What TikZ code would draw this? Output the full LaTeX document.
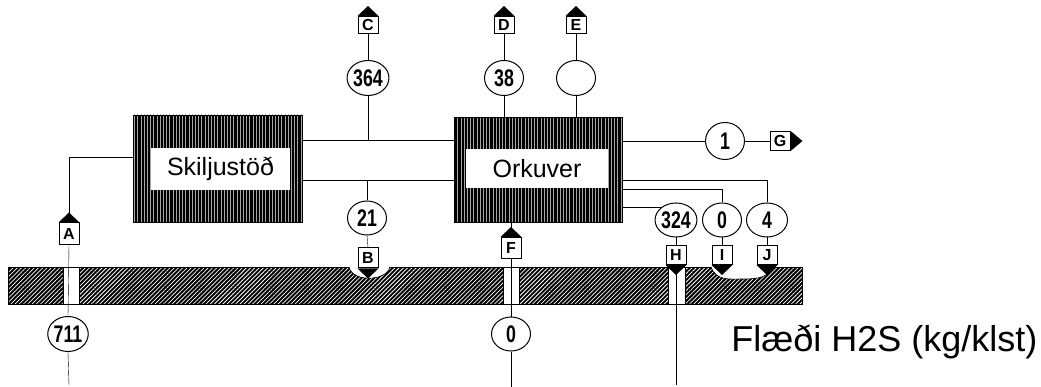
\documentclass[tikz,border=0pt]{standalone}
\usepackage{fontspec}
\setmainfont{Liberation Sans}
\newfontfamily\numfont{Liberation Sans}[FakeStretch=0.74]
\usetikzlibrary{shapes.geometric,patterns.meta,backgrounds}

% small black point on a tag box
\newcommand{\roof}[1]{\fill (#1.north west) -- (#1.north east) -- ([yshift=10pt]#1.north) -- cycle;}
\newcommand{\keel}[1]{\fill (#1.south west) -- (#1.south east) -- ([yshift=-10pt]#1.south) -- cycle;}
\newcommand{\prow}[1]{\fill (#1.north east) -- (#1.south east) -- ([xshift=12pt]#1.east) -- cycle;}

\begin{document}
\begin{tikzpicture}[x=1pt,y=-1pt,line width=0.8pt]
    % Styles
    \tikzset{
      flow/.style={ellipse,draw,line width=1pt,fill=white,inner sep=0pt,minimum width=39pt,minimum height=35pt,
        font=\numfont\bfseries\fontsize{24}{24}\selectfont},
      tag/.style={rectangle,draw,line width=1pt,fill=white,inner sep=0pt,minimum width=20pt,minimum height=19pt,
        font=\bfseries\fontsize{16}{16}\selectfont},
      plant/.style={rectangle,draw,preaction={fill=black},
        pattern={Lines[angle=90,distance=3.2pt,line width=0.5pt]},pattern color=black!35},
      plantname/.style={rectangle,fill=white,inner sep=0pt,font=\fontsize{25}{25}\selectfont},
      ground/.style={draw,line width=0.6pt,preaction={fill=black},
        pattern={Lines[angle=45,distance=3pt,line width=0.75pt]},pattern color=white},
      well/.style={draw,line width=0.6pt,fill=white}
    }
    \useasboundingbox (0,0) rectangle (1041,387);

    % --- Plants ---
    \node[plant,minimum width=169pt,minimum height=107pt] (skil) at (217.5,168.5) {};
    \node[plantname,minimum width=139pt,minimum height=42pt] (skiltxt) at (220.5,169) {Skiljustöð};
    \node[plant,minimum width=168pt,minimum height=105pt] (ork) at (538,169.5) {};
    \node[plantname,minimum width=142pt,minimum height=39pt] (orktxt) at (537,168.5) {Orkuver};

    % --- Flow values ---
    \node[flow] (f364) at (368,78) {364};
    \node[flow] (f38) at (504,78) {38};
    \node[flow] (fE) at (576,78) {};
    \node[flow,minimum height=34pt] (f21) at (367,218) {21};
    \node[flow] (f711) at (68,334) {711};
    \node[flow,minimum height=34pt] (f0b) at (511,334) {0};
    \node[flow,minimum height=37pt] (f1) at (725,141) {1};
    \node[flow,minimum height=34pt] (f324) at (676,220) {324};
    \node[flow,minimum height=34pt] (f0) at (722,220) {0};
    \node[flow,minimum width=41pt,minimum height=34pt] (f4) at (767,220) {4};

    % --- Tags ---
    \node[tag,minimum height=22pt] (tA) at (69,234) {A};
    \node[tag,minimum height=20pt] (tB) at (368,258) {B};
    \node[tag,minimum height=17pt] (tC) at (368,25) {C};
    \node[tag,minimum height=17pt] (tD) at (504,25) {D};
    \node[tag,minimum height=17pt] (tE) at (576,25) {E};
    \node[tag,minimum height=21pt] (tF) at (511,248) {F};
    \node[tag] (tG) at (780,141) {G};
    \node[tag] (tH) at (676,255) {H};
    \node[tag] (tI) at (722,255) {I};
    \node[tag] (tJ) at (767,255) {J};
    \roof{tA} \roof{tC} \roof{tD} \roof{tE} \roof{tF}
    \keel{tB} \keel{tH} \keel{tI} \keel{tJ}
    \prow{tG}

    % --- Free line ends ---
    \coordinate (aBend) at (69,157);
    \coordinate (aEnd) at (69,385);
    \coordinate (fEnd) at (511,387);
    \coordinate (hEnd) at (676,385);

    \begin{scope}[on background layer]
      % --- Ground ---
      \path[ground] (8,267) rectangle (802,304);
      \fill[white] (349,266) .. controls (352,282) and (386,282) .. (390,266) -- cycle;
      \draw[line width=0.6pt] (349,267) .. controls (352,282) and (386,282) .. (390,267);
      \fill[white] (711,266) .. controls (716,281) and (730,279) .. (742,279)
        .. controls (760,279) and (768,277) .. (772,266) -- cycle;
      \draw[line width=0.6pt] (711,267) .. controls (716,281) and (730,279) .. (742,279)
        .. controls (760,279) and (768,277) .. (772,267);
      \draw[well] (63,267) rectangle (79,304);
      \draw[well] (503,267) rectangle (519,304);
      \draw[well] (668,267) rectangle (685,304);

      % --- Connectors ---
      \draw (skil.west |- aBend) -- (aBend) -- (tA.north);
      \draw (tA.south) -- (f711.north);
      \draw (f711.south) -- (aEnd);
      \draw (skil.east |- 0,140) -- (ork.west |- 0,140);
      \draw (skil.east |- 0,180) -- (ork.west |- 0,180);
      \draw (tC.south) -- (f364.north);
      \draw (f364.south) -- (f364.south |- 0,140);
      \draw (f21.north |- 0,180) -- (f21.north);
      \draw (f21.south) -- (tB.north);
      \draw (tD.south) -- (f38.north);
      \draw (f38.south) -- (f38.south |- ork.north);
      \draw (tE.south) -- (fE.north);
      \draw (fE.south) -- (fE.south |- ork.north);
      \draw (tF.north |- ork.south) -- (tF.north);
      \draw (tF.south) -- (f0b.north);
      \draw (f0b.south) -- (fEnd);
      \draw (ork.east |- f1) -- (f1) -- (tG);
      \draw (ork.east |- 0,180) -| (f4.north);
      \draw (ork.east |- 0,189) -| (f0.north);
      \draw (ork.east |- f324.north west) -- (f324.north west);
      \draw (f324.south) -- (tH.north);
      \draw (tH.south) -- (hEnd);
      \draw (f0.south) -- (tI.north);
      \draw (f4.south) -- (tJ.north);
    \end{scope}

    % --- Legend ---
    \node[anchor=base west,inner sep=0pt,font=\fontsize{36}{36}\selectfont] (title) at (731,351) {Flæði H2S (kg/klst)};
\end{tikzpicture}
\end{document}
